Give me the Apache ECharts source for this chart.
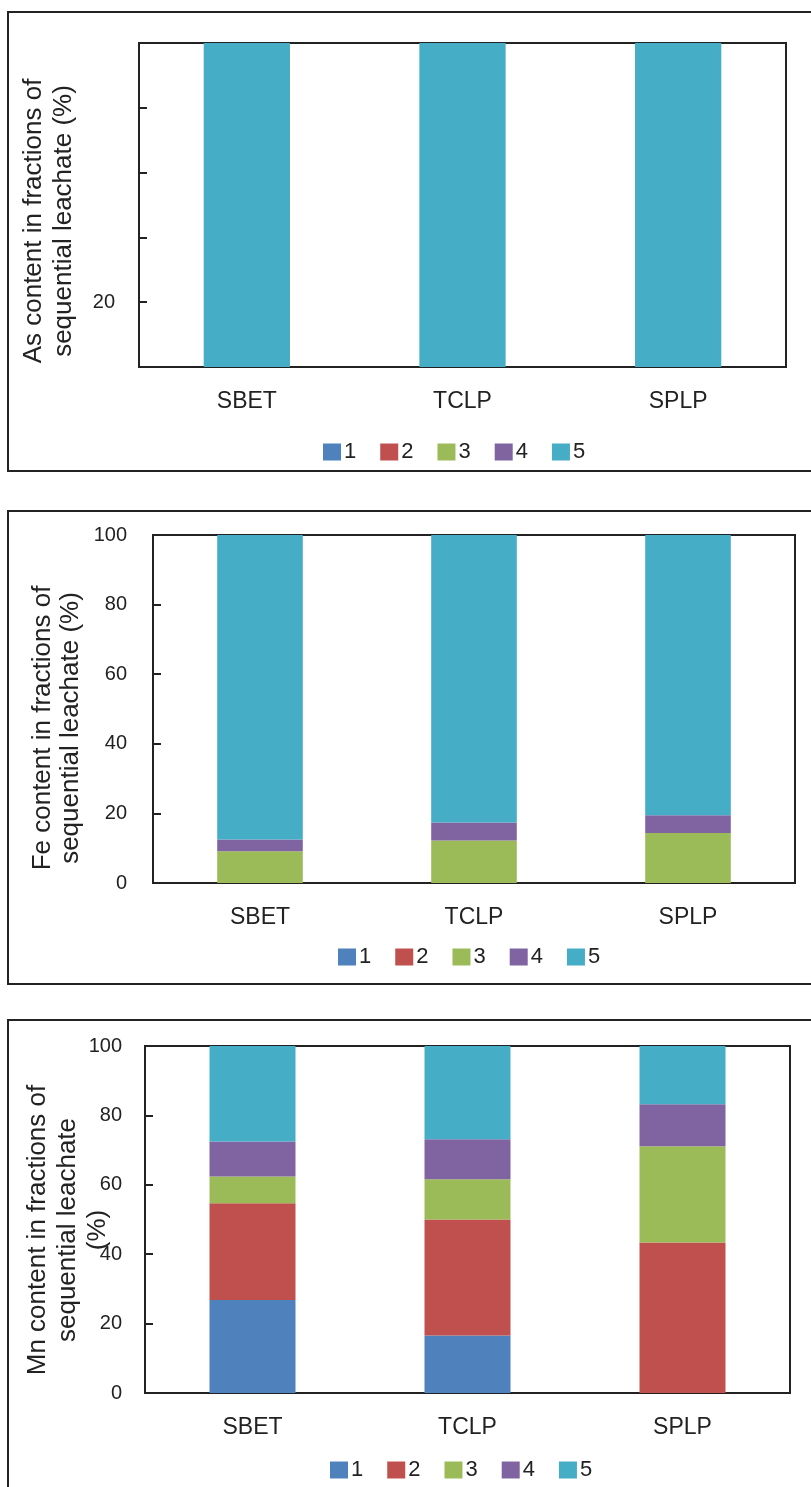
<!DOCTYPE html>
<html>
<head>
<meta charset="utf-8">
<style>
html,body{margin:0;padding:0;background:#fff;overflow:hidden;}
#chart{width:811px;height:1487px;}
</style>
<script src="https://cdn.jsdelivr.net/npm/echarts@6/dist/echarts.min.js"></script>
</head>
<body>
<div id="chart"></div>
<script>
// ---- data ----
const categories = ['SBET', 'TCLP', 'SPLP'];
const fractionNames = ['1', '2', '3', '4', '5'];
const fractionColors = ['#4F81BD', '#C0504D', '#9BBB59', '#8064A2', '#45ADC5'];

// As panel
const asF1 = [0, 0, 0];
const asF2 = [0, 0, 0];
const asF3 = [0, 0, 0];
const asF4 = [0, 0, 0];
const asF5 = [100, 100, 100];
// Fe panel
const feF1 = [0, 0, 0];
const feF2 = [0, 0, 0];
const feF3 = [9.1, 12.2, 14.4];
const feF4 = [3.4, 5.2, 5.1];
const feF5 = [87.5, 82.6, 80.5];
// Mn panel
const mnF1 = [26.8, 16.6, 0];
const mnF2 = [27.9, 33.4, 43.4];
const mnF3 = [7.7, 11.6, 27.7];
const mnF4 = [10.1, 11.5, 12.1];
const mnF5 = [27.5, 26.9, 16.8];

const asTickLabels = ['20'];
const fullTickLabels = ['0', '20', '40', '60', '80', '100'];

const panelTitles = [
  'As content in fractions of\nsequential leachate (%)',
  'Fe content in fractions of\nsequential leachate (%)',
  'Mn content in fractions of\nsequential leachate\n(%)'
];

// ---- layout ----
const FONT = '"Liberation Sans", Arial, Helvetica, sans-serif';
const grids = [
  {left: 139, top: 43, width: 647, height: 324},
  {left: 153, top: 535, width: 642, height: 348},
  {left: 145, top: 1046, width: 645, height: 347}
];
const legendPos = [
  {left: 323, top: 441},
  {left: 338, top: 946},
  {left: 330, top: 1459}
];
const titlePos = [
  {x: 49, y: 221, lh: 30},
  {x: 57, y: 728, lh: 28},
  {x: 68, y: 1230, lh: 30}
];
const labelMargins = [24, 26, 23];
const panelData = [
  [asF1, asF2, asF3, asF4, asF5],
  [feF1, feF2, feF3, feF4, feF5],
  [mnF1, mnF2, mnF3, mnF4, mnF5]
];
const tickSets = [asTickLabels, fullTickLabels, fullTickLabels];

const chart = echarts.init(document.getElementById('chart'), null, {renderer: 'canvas'});

const option = {
  animation: false,
  backgroundColor: '#fff',
  grid: grids.map(g => Object.assign({show: true, borderColor: '#222', borderWidth: 2, backgroundColor: 'transparent', containLabel: false}, g)),
  xAxis: grids.map((g, i) => ({
    type: 'category',
    gridIndex: i,
    data: categories,
    axisLine: {show: true, lineStyle: {color: '#222', width: 2}},
    axisTick: {show: false},
    axisLabel: {color: '#222', fontSize: 23, fontFamily: FONT, margin: 23}
  })),
  yAxis: grids.map((g, i) => ({
    type: 'value',
    gridIndex: i,
    min: 0,
    max: 100,
    interval: 20,
    splitLine: {show: false},
    axisLine: {show: true, lineStyle: {color: '#222', width: 2}},
    axisTick: {show: true, inside: true, length: 8, lineStyle: {color: '#222', width: 2}},
    axisLabel: {
      color: '#222', fontSize: 20, fontFamily: FONT, margin: labelMargins[i],
      formatter: v => (tickSets[i].indexOf(String(v)) >= 0 ? String(v) : '')
    }
  })),
  legend: legendPos.map(p => ({
    data: fractionNames,
    left: p.left,
    top: p.top,
    padding: 0,
    orient: 'horizontal',
    itemWidth: 18,
    itemHeight: 17,
    itemGap: 24,
    icon: 'rect',
    selectedMode: false,
    textStyle: {color: '#222', fontSize: 22, fontFamily: FONT, padding: [0, 0, 0, -2]}
  })),
  series: [],
  graphic: []
};

panelData.forEach((fracs, p) => {
  fracs.forEach((arr, k) => {
    option.series.push({
      type: 'bar',
      name: fractionNames[k],
      stack: 'panel' + p,
      xAxisIndex: p,
      yAxisIndex: p,
      data: arr,
      barWidth: '40%',
      itemStyle: {color: fractionColors[k]},
      emphasis: {disabled: true}
    });
  });
});

// panel frames
const frames = [
  {y: 12, h: 459},
  {y: 511, h: 473},
  {y: 1020, h: 500}
];
frames.forEach(f => {
  option.graphic.push({
    type: 'rect', silent: true, z: 100,
    shape: {x: 8, y: f.y, width: 830, height: f.h},
    style: {fill: 'none', stroke: '#222', lineWidth: 2}
  });
});
titlePos.forEach((t, i) => {
  option.graphic.push({
    type: 'text', silent: true, z: 100,
    x: t.x, y: t.y, rotation: Math.PI / 2,
    style: {
      text: panelTitles[i], fill: '#222',
      font: '26px ' + FONT, lineHeight: t.lh,
      align: 'center', verticalAlign: 'middle'
    }
  });
});

chart.setOption(option);
</script>
</body>
</html>
